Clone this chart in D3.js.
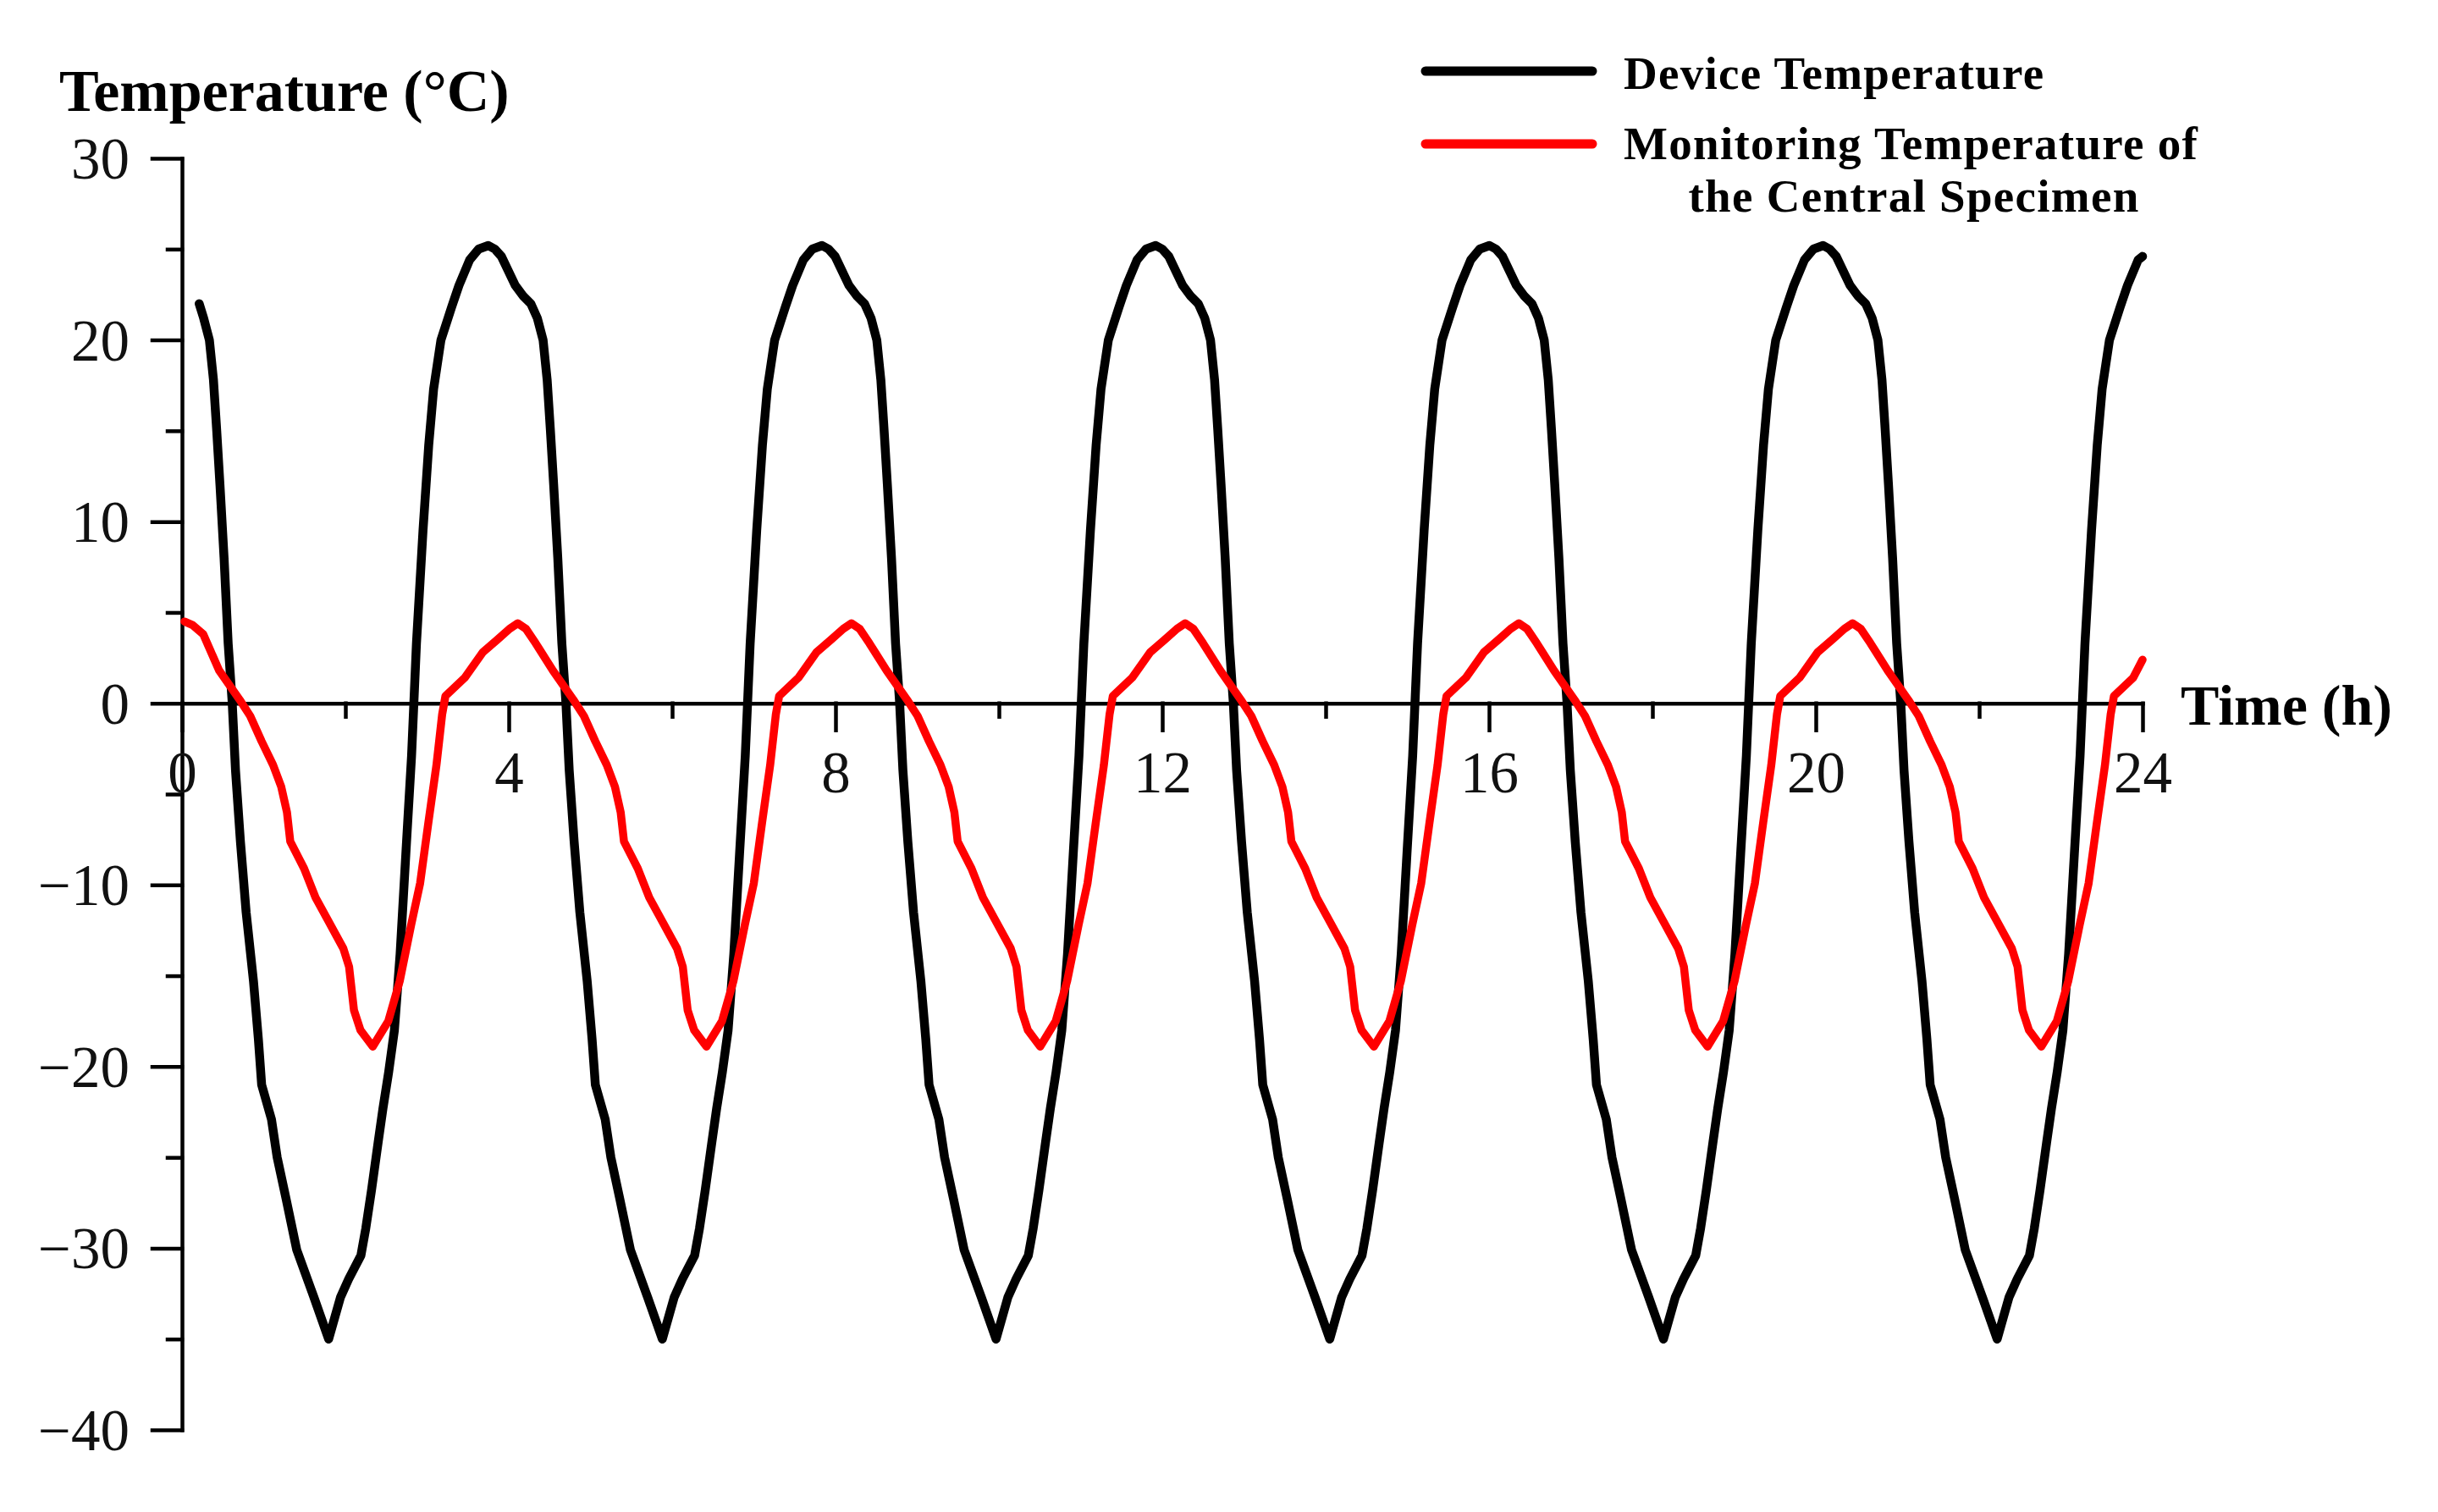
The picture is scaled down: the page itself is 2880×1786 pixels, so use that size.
<!DOCTYPE html>
<html>
<head>
<meta charset="utf-8">
<script src="https://cdn.jsdelivr.net/npm/d3@7"></script>
<style>
  html, body { margin: 0; padding: 0; background: #ffffff; }
  svg { display: block; }
</style>
</head>
<body>
<svg id="chart" width="2880" height="1786"></svg>
<script>
// ---- Data ----
const yMajorTicks = [-40, -30, -20, -10, 0, 10, 20, 30];
const yMinorTicks = [-35, -25, -15, -5, 5, 15, 25];
const xMajorTicks = [0, 4, 8, 12, 16, 20, 24];
const xMinorTicks = [2, 6, 10, 14, 18, 22];

const seriesNames = ["Device Temperature", "Monitoring Temperature of", "the Central Specimen"];

// Device temperature [time (h), temperature (°C)]
const deviceTemperature = [
[0.21,22.0],[0.265,21.2],[0.335,20.0],[0.385,17.8],[0.425,15.0],[0.465,12.0],[0.515,8.0],[0.565,3.3],[0.615,0.0],[0.655,-3.7],[0.715,-7.6],[0.785,-11.5],[0.875,-15.3],[0.935,-18.5],[0.975,-21.0],[1.095,-22.9],[1.165,-25.0],[1.275,-27.3],[1.405,-30.1],[1.615,-32.7],[1.795,-35.0],
[1.94,-32.7],[2.04,-31.7],[2.19,-30.4],[2.25,-28.9],[2.32,-26.8],[2.40,-24.2],[2.46,-22.3],[2.53,-20.3],[2.60,-18.0],[2.67,-13.8],[2.74,-8.3],[2.81,-2.9],[2.87,3.3],[2.95,9.5],[3.02,14.2],[3.08,17.3],[3.17,20.0],[3.30,21.8],[3.39,23.0],[3.52,24.4],[3.63,25.0],[3.75,25.2],
[3.83,25.0],[3.91,24.6],[4.08,23.0],[4.18,22.4],[4.27,22.0],[4.35,21.2],[4.42,20.0],[4.47,17.8],[4.51,15.0],[4.55,12.0],[4.60,8.0],[4.65,3.3],[4.70,0.0],[4.74,-3.7],[4.80,-7.6],[4.87,-11.5],[4.96,-15.3],[5.02,-18.5],[5.06,-21.0],[5.18,-22.9],[5.25,-25.0],[5.36,-27.3],[5.49,-30.1],[5.70,-32.7],[5.88,-35.0],
[6.025,-32.7],[6.125,-31.7],[6.275,-30.4],[6.335,-28.9],[6.405,-26.8],[6.485,-24.2],[6.545,-22.3],[6.615,-20.3],[6.685,-18.0],[6.755,-13.8],[6.825,-8.3],[6.895,-2.9],[6.955,3.3],[7.035,9.5],[7.105,14.2],[7.165,17.3],[7.255,20.0],[7.385,21.8],[7.475,23.0],[7.605,24.4],[7.715,25.0],[7.835,25.2],
[7.915,25.0],[7.995,24.6],[8.165,23.0],[8.265,22.4],[8.355,22.0],[8.435,21.2],[8.505,20.0],[8.555,17.8],[8.595,15.0],[8.635,12.0],[8.685,8.0],[8.735,3.3],[8.785,0.0],[8.825,-3.7],[8.885,-7.6],[8.955,-11.5],[9.045,-15.3],[9.105,-18.5],[9.145,-21.0],[9.265,-22.9],[9.335,-25.0],[9.445,-27.3],[9.575,-30.1],[9.785,-32.7],[9.965,-35.0],
[10.11,-32.7],[10.21,-31.7],[10.36,-30.4],[10.42,-28.9],[10.49,-26.8],[10.57,-24.2],[10.63,-22.3],[10.70,-20.3],[10.77,-18.0],[10.84,-13.8],[10.91,-8.3],[10.98,-2.9],[11.04,3.3],[11.12,9.5],[11.19,14.2],[11.25,17.3],[11.34,20.0],[11.47,21.8],[11.56,23.0],[11.69,24.4],[11.80,25.0],[11.92,25.2],
[12.00,25.0],[12.08,24.6],[12.25,23.0],[12.35,22.4],[12.44,22.0],[12.52,21.2],[12.59,20.0],[12.64,17.8],[12.68,15.0],[12.72,12.0],[12.77,8.0],[12.82,3.3],[12.87,0.0],[12.91,-3.7],[12.97,-7.6],[13.04,-11.5],[13.13,-15.3],[13.19,-18.5],[13.23,-21.0],[13.35,-22.9],[13.42,-25.0],[13.53,-27.3],[13.66,-30.1],[13.87,-32.7],[14.05,-35.0],
[14.195,-32.7],[14.295,-31.7],[14.445,-30.4],[14.505,-28.9],[14.575,-26.8],[14.655,-24.2],[14.715,-22.3],[14.785,-20.3],[14.855,-18.0],[14.925,-13.8],[14.995,-8.3],[15.065,-2.9],[15.125,3.3],[15.205,9.5],[15.275,14.2],[15.335,17.3],[15.425,20.0],[15.555,21.8],[15.645,23.0],[15.775,24.4],[15.885,25.0],[16.005,25.2],
[16.085,25.0],[16.165,24.6],[16.335,23.0],[16.435,22.4],[16.525,22.0],[16.605,21.2],[16.675,20.0],[16.725,17.8],[16.765,15.0],[16.805,12.0],[16.855,8.0],[16.905,3.3],[16.955,0.0],[16.995,-3.7],[17.055,-7.6],[17.125,-11.5],[17.215,-15.3],[17.275,-18.5],[17.315,-21.0],[17.435,-22.9],[17.505,-25.0],[17.615,-27.3],[17.745,-30.1],[17.955,-32.7],[18.135,-35.0],
[18.28,-32.7],[18.38,-31.7],[18.53,-30.4],[18.59,-28.9],[18.66,-26.8],[18.74,-24.2],[18.80,-22.3],[18.87,-20.3],[18.94,-18.0],[19.01,-13.8],[19.08,-8.3],[19.15,-2.9],[19.21,3.3],[19.29,9.5],[19.36,14.2],[19.42,17.3],[19.51,20.0],[19.64,21.8],[19.73,23.0],[19.86,24.4],[19.97,25.0],[20.09,25.2],
[20.17,25.0],[20.25,24.6],[20.42,23.0],[20.52,22.4],[20.61,22.0],[20.69,21.2],[20.76,20.0],[20.81,17.8],[20.85,15.0],[20.89,12.0],[20.94,8.0],[20.99,3.3],[21.04,0.0],[21.08,-3.7],[21.14,-7.6],[21.21,-11.5],[21.30,-15.3],[21.36,-18.5],[21.40,-21.0],[21.52,-22.9],[21.59,-25.0],[21.70,-27.3],[21.83,-30.1],[22.04,-32.7],[22.22,-35.0],
[22.365,-32.7],[22.465,-31.7],[22.615,-30.4],[22.675,-28.9],[22.745,-26.8],[22.825,-24.2],[22.885,-22.3],[22.955,-20.3],[23.025,-18.0],[23.095,-13.8],[23.165,-8.3],[23.235,-2.9],[23.295,3.3],[23.375,9.5],[23.445,14.2],[23.505,17.3],[23.595,20.0],[23.725,21.8],[23.815,23.0],[23.945,24.4],[24.0,24.6]
];

// Monitoring temperature of the central specimen [time (h), temperature (°C)]
const specimenTemperature = [
[0.03,4.5],[0.13,4.3],[0.26,3.8],[0.455,1.8],[0.705,0.2],[0.835,-0.7],[0.975,-2.1],[1.115,-3.4],[1.215,-4.6],[1.285,-6.0],[1.325,-7.6],[1.495,-9.1],[1.635,-10.7],[1.805,-12.1],[1.975,-13.5],[2.045,-14.5],[2.105,-16.9],[2.185,-18.0],[2.335,-18.9],
[2.525,-17.5],[2.665,-15.3],[2.805,-12.2],[2.915,-9.9],[3.015,-6.6],[3.115,-3.4],[3.185,-0.6],[3.225,0.4],[3.46,1.4],[3.68,2.8],[3.86,3.5],[4.01,4.1],[4.11,4.4],
[4.21,4.1],[4.33,3.3],[4.54,1.8],[4.79,0.2],[4.92,-0.7],[5.06,-2.1],[5.20,-3.4],[5.30,-4.6],[5.37,-6.0],[5.41,-7.6],[5.58,-9.1],[5.72,-10.7],[5.89,-12.1],[6.06,-13.5],[6.13,-14.5],[6.19,-16.9],[6.27,-18.0],[6.42,-18.9],
[6.61,-17.5],[6.75,-15.3],[6.89,-12.2],[7.00,-9.9],[7.10,-6.6],[7.20,-3.4],[7.27,-0.6],[7.31,0.4],[7.545,1.4],[7.765,2.8],[7.945,3.5],[8.095,4.1],[8.195,4.4],
[8.295,4.1],[8.415,3.3],[8.625,1.8],[8.875,0.2],[9.005,-0.7],[9.145,-2.1],[9.285,-3.4],[9.385,-4.6],[9.455,-6.0],[9.495,-7.6],[9.665,-9.1],[9.805,-10.7],[9.975,-12.1],[10.145,-13.5],[10.215,-14.5],[10.275,-16.9],[10.355,-18.0],[10.505,-18.9],
[10.695,-17.5],[10.835,-15.3],[10.975,-12.2],[11.085,-9.9],[11.185,-6.6],[11.285,-3.4],[11.355,-0.6],[11.395,0.4],[11.63,1.4],[11.85,2.8],[12.03,3.5],[12.18,4.1],[12.28,4.4],
[12.38,4.1],[12.50,3.3],[12.71,1.8],[12.96,0.2],[13.09,-0.7],[13.23,-2.1],[13.37,-3.4],[13.47,-4.6],[13.54,-6.0],[13.58,-7.6],[13.75,-9.1],[13.89,-10.7],[14.06,-12.1],[14.23,-13.5],[14.30,-14.5],[14.36,-16.9],[14.44,-18.0],[14.59,-18.9],
[14.78,-17.5],[14.92,-15.3],[15.06,-12.2],[15.17,-9.9],[15.27,-6.6],[15.37,-3.4],[15.44,-0.6],[15.48,0.4],[15.715,1.4],[15.935,2.8],[16.115,3.5],[16.265,4.1],[16.365,4.4],
[16.465,4.1],[16.585,3.3],[16.795,1.8],[17.045,0.2],[17.175,-0.7],[17.315,-2.1],[17.455,-3.4],[17.555,-4.6],[17.625,-6.0],[17.665,-7.6],[17.835,-9.1],[17.975,-10.7],[18.145,-12.1],[18.315,-13.5],[18.385,-14.5],[18.445,-16.9],[18.525,-18.0],[18.675,-18.9],
[18.865,-17.5],[19.005,-15.3],[19.145,-12.2],[19.255,-9.9],[19.355,-6.6],[19.455,-3.4],[19.525,-0.6],[19.565,0.4],[19.80,1.4],[20.02,2.8],[20.20,3.5],[20.35,4.1],[20.45,4.4],
[20.55,4.1],[20.67,3.3],[20.88,1.8],[21.13,0.2],[21.26,-0.7],[21.40,-2.1],[21.54,-3.4],[21.64,-4.6],[21.71,-6.0],[21.75,-7.6],[21.92,-9.1],[22.06,-10.7],[22.23,-12.1],[22.40,-13.5],[22.47,-14.5],[22.53,-16.9],[22.61,-18.0],[22.76,-18.9],
[22.95,-17.5],[23.09,-15.3],[23.23,-12.2],[23.34,-9.9],[23.44,-6.6],[23.54,-3.4],[23.61,-0.6],[23.65,0.4],[23.885,1.4],[24.0,2.4]
];

// ---- Drawing ----
const svg = d3.select("#chart");
const serif = "'Liberation Serif', 'Times New Roman', serif";

const x = d3.scaleLinear().domain([0, 24]).range([215, 2531]);
const y = d3.scaleLinear().domain([-40, 30]).range([1689, 187]);

const axisStroke = 4.5;
const fmt = d => d < 0 ? "\u2212" + Math.abs(d) : String(d);

// Y axis (major)
const gy = svg.append("g").attr("transform", `translate(${x(0)},0)`)
  .call(d3.axisLeft(y).tickValues(yMajorTicks).tickSize(35).tickSizeOuter(0).tickPadding(27).tickFormat(fmt));
// Y axis (minor)
const gy2 = svg.append("g").attr("transform", `translate(${x(0)},0)`)
  .call(d3.axisLeft(y).tickValues(yMinorTicks).tickSize(17).tickSizeOuter(0).tickFormat(""));
gy2.select(".domain").remove();

// X axis (major)
const gx = svg.append("g").attr("transform", `translate(0,${y(0)})`)
  .call(d3.axisBottom(x).tickValues(xMajorTicks).tickSize(32).tickSizeOuter(0).tickPadding(24).tickFormat(d => String(d)));
// X axis (minor)
const gx2 = svg.append("g").attr("transform", `translate(0,${y(0)})`)
  .call(d3.axisBottom(x).tickValues(xMinorTicks).tickSize(16).tickSizeOuter(0).tickFormat(""));
gx2.select(".domain").remove();

svg.selectAll(".domain, .tick line")
  .attr("stroke", "#000").attr("stroke-width", axisStroke).attr("stroke-linecap", "square");
svg.selectAll(".tick text")
  .attr("font-family", serif).attr("font-size", 69).attr("fill", "#111");
gy.selectAll(".tick text").attr("dy", "0.34em");

// Axis titles
svg.append("text").attr("x", 70).attr("y", 131)
  .attr("font-family", serif).attr("font-weight", "bold").attr("font-size", 70).attr("fill", "#000")
  .text("Temperature (°C)");
svg.append("text").attr("x", 2576).attr("y", 856)
  .attr("font-family", serif).attr("font-weight", "bold").attr("font-size", 68).attr("fill", "#000")
  .text("Time (h)");

// Lines
const line = d3.line().x(d => x(d[0])).y(d => y(d[1]));
svg.append("path").datum(deviceTemperature)
  .attr("d", line).attr("fill", "none").attr("stroke", "#000")
  .attr("stroke-width", 10.5).attr("stroke-linejoin", "round").attr("stroke-linecap", "round");
svg.append("path").datum(specimenTemperature)
  .attr("d", line).attr("fill", "none").attr("stroke", "#ff0000")
  .attr("stroke-width", 9.5).attr("stroke-linejoin", "round").attr("stroke-linecap", "round");

// Legend
const lg = svg.append("g");
lg.append("line").attr("x1", 1684).attr("x2", 1881).attr("y1", 84).attr("y2", 84)
  .attr("stroke", "#000").attr("stroke-width", 11).attr("stroke-linecap", "round");
lg.append("line").attr("x1", 1684).attr("x2", 1881).attr("y1", 170).attr("y2", 170)
  .attr("stroke", "#ff0000").attr("stroke-width", 11).attr("stroke-linecap", "round");
const legendFont = 55, legendSpacing = 1.3;
lg.append("text").attr("x", 1918).attr("y", 105)
  .attr("font-family", serif).attr("font-weight", "bold").attr("font-size", legendFont)
  .attr("letter-spacing", legendSpacing).attr("fill", "#000")
  .text(seriesNames[0]);
lg.append("text").attr("x", 1918).attr("y", 188)
  .attr("font-family", serif).attr("font-weight", "bold").attr("font-size", legendFont)
  .attr("letter-spacing", legendSpacing).attr("fill", "#000")
  .text(seriesNames[1]);
lg.append("text").attr("x", 2261).attr("y", 250).attr("text-anchor", "middle")
  .attr("font-family", serif).attr("font-weight", "bold").attr("font-size", legendFont)
  .attr("letter-spacing", legendSpacing).attr("fill", "#000")
  .text(seriesNames[2]);
</script>
</body>
</html>
